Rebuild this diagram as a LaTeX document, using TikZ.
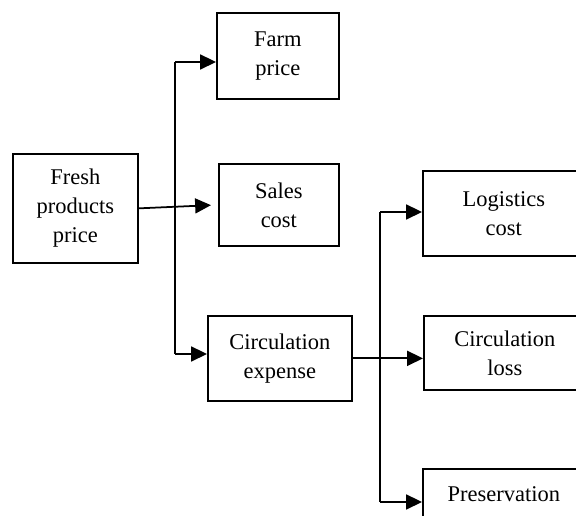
\documentclass[tikz,border=0pt]{standalone}
\usepackage{fontspec}
\setmainfont{Liberation Serif}
\usetikzlibrary{arrows.meta}

\begin{document}
\begin{tikzpicture}[x=0.02cm, y=-0.02cm,
					line width = 1pt,
					box/.style={draw, rectangle, anchor=north west, align=center, inner sep=0pt,
						font=\fontsize{12.8}{16.5}\selectfont},
					arrow/.style={-{Triangle[length=9pt,width=8.5pt]}}]

	\useasboundingbox (0,0) rectangle (576,516);

	% boxes
	\node [box, minimum width=2.5cm, minimum height=2.18cm] (fresh) at (12,153) {Fresh\\products\\price};
	\node [box, minimum width=2.44cm, minimum height=1.72cm] (farm) at (216,12) {Farm\\price};
	\node [box, minimum width=2.4cm, minimum height=1.64cm] (sales) at (218,163) {Sales\\cost};
	\node [box, minimum width=2.88cm, minimum height=1.7cm] (circ) at (207,315) {Circulation\\expense};
	\node [box, minimum width=3.24cm, minimum height=1.7cm] (logi) at (422,170) {Logistics\\cost};
	\node [box, minimum width=3.24cm, minimum height=1.48cm] (loss) at (423,315) {Circulation\\loss};
	\node [box, minimum width=3.24cm, minimum height=1.6cm] (pres) at (422,468) {Preservation\\{}};

	% left bus
	\coordinate (ltop) at (175,62);
	\coordinate (lbot) at (175,354);
	\draw (lbot) -- (ltop);
	\draw [arrow] (ltop) -- (farm.west |- ltop);
	\draw [arrow, shorten >=4pt] (fresh.east) -- (sales.west);
	\draw [arrow] (lbot) -- (circ.west |- lbot);

	% right bus
	\coordinate (rtop) at (380,212);
	\coordinate (rbot) at (380,502);
	\draw (rbot) -- (rtop);
	\draw [arrow] (rtop) -- (logi.west |- rtop);
	\draw [arrow] (circ.east) -- (loss.west |- circ.east);
	\draw [arrow] (rbot) -- (pres.west |- rbot);

\end{tikzpicture}
\end{document}
